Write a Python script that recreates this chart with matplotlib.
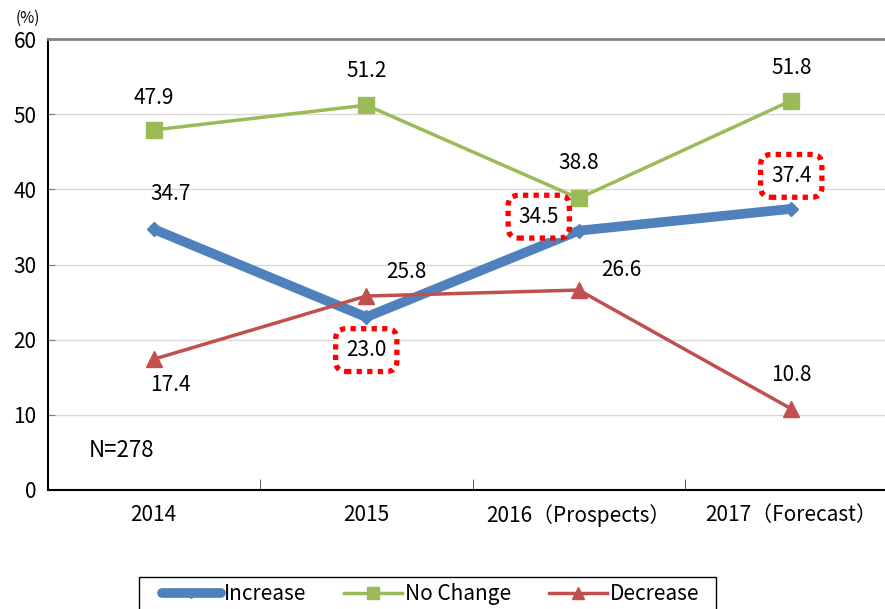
import matplotlib
matplotlib.use("Agg")
import matplotlib.pyplot as plt
from matplotlib.lines import Line2D
from matplotlib.patches import Rectangle

plt.rcParams['font.family'] = ['Noto Sans CJK JP', 'DejaVu Sans']

categories = ["2014", "2015", "2016（Prospects）", "2017（Forecast）"]
increase = [34.7, 23.0, 34.5, 37.4]
no_change = [47.9, 51.2, 38.8, 51.8]
decrease = [17.4, 25.8, 26.6, 10.8]
yticks = [0, 10, 20, 30, 40, 50, 60]

# label offsets in pixels (style only)
inc_off = [(17, 35), (0, -33), (-40, 14), (0, 33)]
inc_boxed = [False, True, True, True]
nc_off = [(0, 32), (0, 34), (0, 35), (0, 33)]
dec_off = [(17, -26), (40, 24), (43, 20), (0, 34)]

W, H = 885, 609
fig = plt.figure(figsize=(W / 100, H / 100), dpi=100)
ax = fig.add_axes([47.5 / W, (H - 490) / H, 850 / W, (490 - 39) / H])

x = list(range(len(categories)))
blue, green, red = "#4F81BD", "#9BBB59", "#C0504D"

ax.plot(x, increase, color=blue, lw=7, marker="D", ms=7, zorder=3, solid_capstyle='round')
ax.plot(x, no_change, color=green, lw=2.5, marker="s", ms=11, zorder=3)
ax.plot(x, decrease, color=red, lw=2.5, marker="^", ms=11, zorder=3)

fs = 15
for i in x:
    kw = dict(textcoords="offset pixels", ha="center", va="center", fontsize=fs, zorder=5)
    if inc_boxed[i]:
        ax.annotate(f"{increase[i]:.1f}", (i, increase[i]), xytext=inc_off[i],
                    bbox=dict(boxstyle="round,pad=0.5,rounding_size=0.5", fc="white", ec="#FF0000",
                              lw=3.8, ls=(0, (1, 1))), **kw)
    else:
        ax.annotate(f"{increase[i]:.1f}", (i, increase[i]), xytext=inc_off[i], **kw)
    ax.annotate(f"{no_change[i]:.1f}", (i, no_change[i]), xytext=nc_off[i], **kw)
    ax.annotate(f"{decrease[i]:.1f}", (i, decrease[i]), xytext=dec_off[i], **kw)

ax.set_xlim(-0.5, len(categories) - 0.5)
ax.set_ylim(0, 60)
ax.set_yticks(yticks)
ax.set_yticklabels([str(v) for v in yticks], fontsize=fs)
ax.set_xticks(x)
ax.set_xticklabels(categories, fontsize=fs)
ax.tick_params(axis='x', length=0, pad=10)
ax.set_xticks([i + 0.5 for i in x[:-1]], minor=True)
ax.tick_params(axis='x', which='minor', direction='in', length=8, color='#404040')
ax.tick_params(axis='y', direction='in', length=5, color='#808080', pad=8)

for v in yticks[1:-1]:
    ax.axhline(v, color="#D9D9D9", lw=1, zorder=1)
ax.spines['top'].set_color('#808080')
ax.spines['top'].set_linewidth(2)
ax.spines['right'].set_visible(False)
ax.spines['left'].set_linewidth(1.5)
ax.spines['bottom'].set_linewidth(1.5)

ax.text(-0.15, 5.3, "N=278", fontsize=16, ha="center", va="center")
fig.text(16 / W, 1 - 18 / H, "(%)", fontsize=11, ha="left", va="center")

handles = [
    Line2D([], [], color=blue, lw=7, marker="D", ms=5, solid_capstyle='round'),
    Line2D([], [], color=green, lw=2.5, marker="s", ms=9),
    Line2D([], [], color=red, lw=2.5, marker="^", ms=9),
]
leg = fig.legend(handles, ["Increase", "No Change", "Decrease"], ncol=3,
                 loc="center", bbox_to_anchor=(431 / W, 1 - 594 / H),
                 fontsize=fs, frameon=False, handlelength=2.8, handletextpad=0.15,
                 borderpad=0.0, columnspacing=1.8)
fig.patches.append(Rectangle((139 / W, -0.05), 577 / W, (H - 577) / H + 0.05,
                             transform=fig.transFigure, fill=False, ec="black", lw=1))

fig.savefig("out.png", dpi=100)
